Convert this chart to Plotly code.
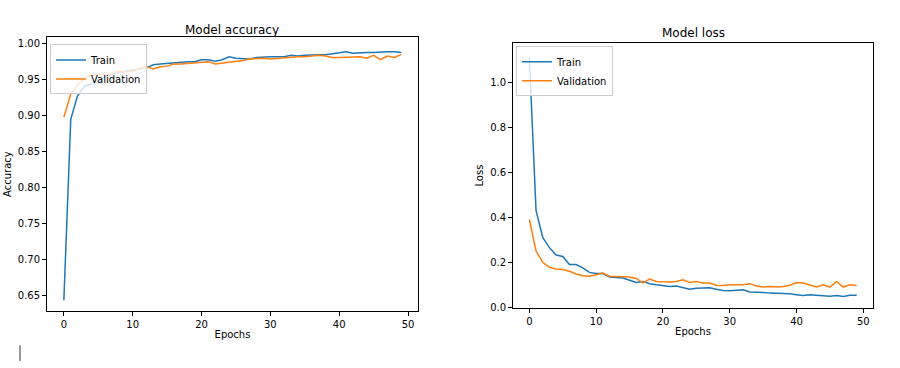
import plotly.graph_objects as go

epochs = list(range(50))

train_acc = [0.643, 0.895, 0.928, 0.941, 0.944, 0.945, 0.955, 0.958, 0.960, 0.962,
             0.963, 0.965, 0.967, 0.971, 0.972, 0.973, 0.973, 0.974, 0.975, 0.975,
             0.978, 0.978, 0.976, 0.978, 0.982, 0.980, 0.980, 0.979, 0.981, 0.982,
             0.982, 0.982, 0.982, 0.984, 0.983, 0.984, 0.985, 0.985, 0.985, 0.986,
             0.987, 0.989, 0.987, 0.988, 0.988, 0.988, 0.989, 0.989, 0.989, 0.988]
val_acc = [0.898, 0.930, 0.943, 0.952, 0.956, 0.958, 0.957, 0.960, 0.962, 0.961,
           0.962, 0.966, 0.968, 0.965, 0.968, 0.969, 0.972, 0.972, 0.973, 0.974,
           0.975, 0.975, 0.972, 0.973, 0.975, 0.976, 0.977, 0.979, 0.980, 0.980,
           0.979, 0.980, 0.981, 0.981, 0.982, 0.982, 0.983, 0.984, 0.983, 0.981,
           0.981, 0.981, 0.982, 0.982, 0.980, 0.984, 0.978, 0.983, 0.981, 0.985]

train_loss = [1.11, 0.43, 0.31, 0.265, 0.232, 0.226, 0.19, 0.19, 0.175, 0.155,
              0.15, 0.15, 0.135, 0.133, 0.13, 0.12, 0.11, 0.115, 0.105, 0.1,
              0.097, 0.092, 0.095, 0.088, 0.08, 0.085, 0.085, 0.087, 0.08, 0.075,
              0.074, 0.075, 0.078, 0.068, 0.068, 0.066, 0.063, 0.063, 0.062, 0.06,
              0.056, 0.052, 0.056, 0.053, 0.052, 0.049, 0.052, 0.048, 0.054, 0.054]
val_loss = [0.39, 0.25, 0.2, 0.178, 0.17, 0.168, 0.16, 0.148, 0.14, 0.138,
            0.145, 0.152, 0.138, 0.136, 0.137, 0.135, 0.128, 0.108, 0.125, 0.115,
            0.113, 0.112, 0.115, 0.122, 0.11, 0.115, 0.108, 0.108, 0.098, 0.097,
            0.1, 0.1, 0.1, 0.105, 0.095, 0.09, 0.092, 0.09, 0.092, 0.098,
            0.11, 0.108, 0.1, 0.09, 0.1, 0.09, 0.115, 0.09, 0.1, 0.097]

BLUE = "#1f77b4"
ORANGE = "#ff7f0e"
FONT = "DejaVu Sans"
W, H = 900, 368

fig = go.Figure()
fig.add_trace(go.Scatter(x=epochs, y=train_acc, mode="lines", name="Train",
                         line=dict(color=BLUE, width=1.5), xaxis="x", yaxis="y", legend="legend"))
fig.add_trace(go.Scatter(x=epochs, y=val_acc, mode="lines", name="Validation",
                         line=dict(color=ORANGE, width=1.5), xaxis="x", yaxis="y", legend="legend"))
fig.add_trace(go.Scatter(x=epochs, y=train_loss, mode="lines", name="Train",
                         line=dict(color=BLUE, width=1.5), xaxis="x2", yaxis="y2", legend="legend2"))
fig.add_trace(go.Scatter(x=epochs, y=val_loss, mode="lines", name="Validation",
                         line=dict(color=ORANGE, width=1.5), xaxis="x2", yaxis="y2", legend="legend2"))

def px_x(p):
    return p / W

def px_y(p):
    return 1 - p / H

axis_common = dict(showline=True, linecolor="black", linewidth=0.8, mirror=True,
                   ticks="outside", ticklen=4, tickwidth=0.8, tickcolor="black",
                   showgrid=False, zeroline=False,
                   tickfont=dict(family=FONT, size=10, color="black"))

fig.update_layout(
    width=W, height=H,
    margin=dict(l=0, r=0, t=0, b=0),
    paper_bgcolor="white", plot_bgcolor="white",
    font=dict(family=FONT, size=10, color="black"),
    xaxis=dict(domain=[px_x(47), px_x(418)], range=[-2.45, 51.45], dtick=10, tick0=0,
               anchor="y", title=dict(text="Epochs", standoff=2,
                                      font=dict(family=FONT, size=10)), **axis_common),
    yaxis=dict(domain=[px_y(315), px_y(38)], range=[0.6284, 1.0089], dtick=0.05, tick0=0,
               tickformat=".2f", anchor="x",
               title=dict(text="Accuracy", standoff=4, font=dict(family=FONT, size=10)),
               **axis_common),
    xaxis2=dict(domain=[px_x(513), px_x(873)], range=[-2.45, 51.45], dtick=10, tick0=0,
                anchor="y2", title=dict(text="Epochs", standoff=2,
                                        font=dict(family=FONT, size=10)), **axis_common),
    yaxis2=dict(domain=[px_y(312), px_y(44)], range=[-0.002, 1.172], dtick=0.2, tick0=0,
                tickformat=".1f", anchor="x2",
                title=dict(text="Loss", standoff=4, font=dict(family=FONT, size=10)),
                **axis_common),
    legend=dict(x=px_x(50), y=px_y(45), xanchor="left", yanchor="top",
                bgcolor="rgba(255,255,255,0.8)", bordercolor="#cccccc", borderwidth=1,
                font=dict(family=FONT, size=10), tracegroupgap=0, itemwidth=30),
    legend2=dict(x=px_x(516), y=px_y(47), xanchor="left", yanchor="top",
                 bgcolor="rgba(255,255,255,0.8)", bordercolor="#cccccc", borderwidth=1,
                 font=dict(family=FONT, size=10), tracegroupgap=0, itemwidth=30),
    showlegend=True,
    annotations=[
        dict(text="Model accuracy", x=(px_x(47) + px_x(418)) / 2, y=px_y(30),
             xref="paper", yref="paper", showarrow=False, xanchor="center", yanchor="middle",
             font=dict(family=FONT, size=12, color="black")),
        dict(text="Model loss", x=(px_x(513) + px_x(873)) / 2, y=px_y(33),
             xref="paper", yref="paper", showarrow=False, xanchor="center", yanchor="middle",
             font=dict(family=FONT, size=12, color="black")),
    ],
    shapes=[
        dict(type="line", xref="paper", yref="paper", x0=px_x(20), x1=px_x(20),
             y0=px_y(350), y1=px_y(366), line=dict(color="#333333", width=1)),
    ],
)

fig.write_html(
    "out.html",
    config={"displayModeBar": False},
    post_script="document.body.style.margin='0';document.body.style.overflow='hidden';",
)
